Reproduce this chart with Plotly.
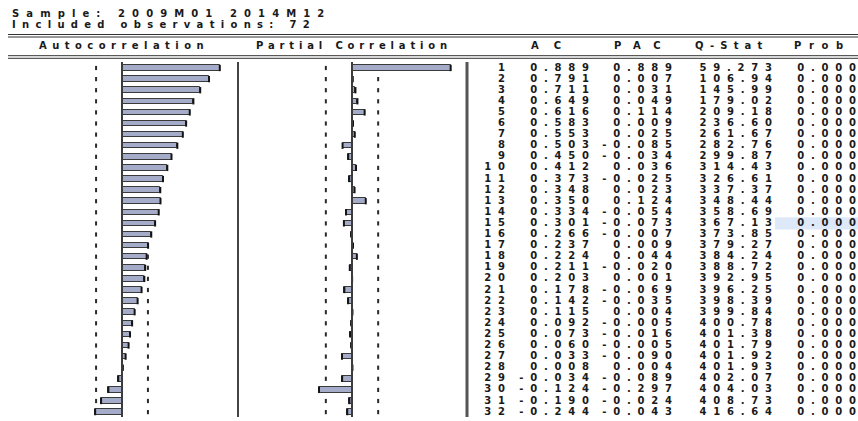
import plotly.graph_objects as go
import math

# ---------------- data ----------------
lags = list(range(1, 33))
ac = [0.889, 0.791, 0.711, 0.649, 0.616, 0.583, 0.553, 0.503, 0.450, 0.412,
      0.373, 0.348, 0.350, 0.334, 0.301, 0.266, 0.237, 0.224, 0.211, 0.203,
      0.178, 0.142, 0.115, 0.092, 0.073, 0.060, 0.033, 0.008, -0.034, -0.124,
      -0.190, -0.244]
pac = [0.889, 0.007, 0.031, 0.049, 0.114, 0.009, 0.025, -0.085, -0.034, 0.036,
       -0.025, 0.023, 0.124, -0.054, -0.073, -0.007, 0.009, 0.044, -0.020, 0.001,
       -0.069, -0.035, 0.004, -0.005, -0.016, -0.005, -0.090, 0.004, -0.089, -0.297,
       -0.024, -0.043]
qstat = ["59.273", "106.94", "145.99", "179.02", "209.18", "236.60", "261.67", "282.76",
         "299.87", "314.43", "326.61", "337.37", "348.44", "358.69", "367.13", "373.85",
         "379.27", "384.24", "388.72", "392.95", "396.25", "398.39", "399.84", "400.78",
         "401.38", "401.79", "401.92", "401.93", "402.07", "404.03", "408.73", "416.64"]
prob = ["0.000"] * 32
n_obs = 72
sample_text = "Sample: 2009M01 2014M12"
obs_text = "Included observations: 72"
col_headers = ["AC", "PAC", "Q-Stat", "Prob"]

bound = 2 / math.sqrt(n_obs)

# ---------------- layout constants ----------------
W, H = 858, 421
FONT = "DejaVu Sans"
TXT = "#1a1a1a"
FILL = "#a4acca"
EDGE = "#3a3a3a"
LS = 6.8  # letter spacing for numbers


def sp(t, s=LS):
    # letter-spacing on all but the last glyph so the ink ends at the anchor
    return f'<span style="letter-spacing:{s}px">{t[:-1]}</span>{t[-1]}' if len(t) > 1 else t


def px(p):  # pixel x -> paper
    return p / W


def py(p):  # pixel y -> paper
    return 1 - p / H


ac_zero, ac_scale = 122, 110
pac_zero, pac_scale = 352, 111
row1_px, row_step = 68, 11.1

fig = go.Figure()

# AC bars
fig.add_trace(go.Bar(orientation="h", x=ac, y=lags, width=0.5, xaxis="x", yaxis="y",
                     marker=dict(color=FILL, line=dict(color=EDGE, width=1)),
                     hoverinfo="skip"))
fig.add_trace(go.Scatter(x=ac, y=lags, mode="markers", xaxis="x", yaxis="y",
                         marker=dict(symbol="line-ns", size=4.5,
                                     line=dict(color="#141414", width=2)),
                         hoverinfo="skip"))
# AC bound ticks
ac_r = [l for l, v in zip(lags, ac) if v < bound]
ac_l = [l for l, v in zip(lags, ac) if v > -bound]
fig.add_trace(go.Scatter(x=[bound] * len(ac_r) + [-bound] * len(ac_l), y=ac_r + ac_l,
                         mode="markers", xaxis="x", yaxis="y",
                         marker=dict(symbol="line-ns", size=3,
                                     line=dict(color="#2a2a2a", width=2)),
                         hoverinfo="skip"))

# PAC bars
fig.add_trace(go.Bar(orientation="h", x=pac, y=lags, width=0.5, xaxis="x2", yaxis="y",
                     marker=dict(color=FILL, line=dict(color=EDGE, width=1)),
                     hoverinfo="skip"))
fig.add_trace(go.Scatter(x=pac, y=lags, mode="markers", xaxis="x2", yaxis="y",
                         marker=dict(symbol="line-ns", size=4.5,
                                     line=dict(color="#141414", width=2)),
                         hoverinfo="skip"))
pac_r = [l for l, v in zip(lags, pac) if v < bound]
pac_l = [l for l, v in zip(lags, pac) if v > -bound]
fig.add_trace(go.Scatter(x=[bound] * len(pac_r) + [-bound] * len(pac_l), y=pac_r + pac_l,
                         mode="markers", xaxis="x2", yaxis="y",
                         marker=dict(symbol="line-ns", size=3,
                                     line=dict(color="#2a2a2a", width=2)),
                         hoverinfo="skip"))

# table text columns
tfont = dict(family=FONT, size=10, color=TXT, weight="bold")
cols = [
    ([str(l) for l in lags], 505),
    ([f"{v:.3f}" for v in ac], 589),
    ([f"{v:.3f}" for v in pac], 672),
    (qstat, 772),
    (prob, 856),
]
for texts, xr in cols:
    fig.add_trace(go.Scatter(x=[xr] * len(texts), y=lags, mode="text",
                             text=[sp(t) for t in texts], textposition="middle left",
                             textfont=tfont, xaxis="x3", yaxis="y", hoverinfo="skip",
                             cliponaxis=False))

shapes = []
# highlight cell
shapes.append(dict(type="rect", xref="x3", yref="y", x0=775, x1=858, y0=15 - 0.55, y1=15 + 0.55,
                   fillcolor="#dde8f8", line=dict(width=0), layer="below"))
# horizontal double rules
for yy in (34.5, 37, 55.7, 58.3):
    shapes.append(dict(type="line", xref="paper", yref="paper", x0=px(8), x1=1,
                       y0=py(yy), y1=py(yy), line=dict(color="#333", width=1)))
# vertical lines
vtop, vbot = py(62), py(417)
shapes.append(dict(type="line", xref="x", yref="paper", x0=0, x1=0, y0=vbot, y1=vtop,
                   line=dict(color="#3c3c3c", width=2)))
shapes.append(dict(type="line", xref="x2", yref="paper", x0=0, x1=0, y0=vbot, y1=vtop,
                   line=dict(color="#3c3c3c", width=2)))
shapes.append(dict(type="line", xref="x3", yref="paper", x0=238, x1=238, y0=vbot, y1=vtop,
                   line=dict(color="#444", width=2)))
shapes.append(dict(type="line", xref="x3", yref="paper", x0=467, x1=467, y0=vbot, y1=vtop,
                   line=dict(color="#555", width=3)))

ann = []
hfont = dict(family=FONT, size=10, color=TXT, weight="bold")
ann.append(dict(text=sp(sample_text, 7.1), x=px(10), y=py(13.5), xref="paper", yref="paper",
                xanchor="left", yanchor="middle", showarrow=False, font=hfont))
ann.append(dict(text=sp(obs_text, 6.3), x=px(10), y=py(24.5), xref="paper", yref="paper",
                xanchor="left", yanchor="middle", showarrow=False, font=hfont))
ann.append(dict(text=sp("Autocorrelation", 5.45), x=px(121.5), y=py(45.5), xref="paper",
                yref="paper", xanchor="center", yanchor="middle", showarrow=False, font=hfont))
ann.append(dict(text=sp("Partial Correlation", 4.85), x=px(351.5), y=py(45.5), xref="paper",
                yref="paper", xanchor="center", yanchor="middle", showarrow=False, font=hfont))
for h, cx, s in zip(col_headers, [546, 637, 729, 818], [15.0, 12.5, 6.2, 7.6]):
    ann.append(dict(text=sp(h, s), x=px(cx), y=py(45.5), xref="paper", yref="paper",
                    xanchor="center", yanchor="middle", showarrow=False, font=hfont))

fig.update_layout(
    width=W, height=H, autosize=False,
    margin=dict(l=0, r=0, t=0, b=0, pad=0),
    paper_bgcolor="white", plot_bgcolor="white",
    showlegend=False, barmode="overlay", bargap=0,
    xaxis=dict(range=[-ac_zero / ac_scale, (W - ac_zero) / ac_scale], domain=[0, 1],
               visible=False, fixedrange=True),
    xaxis2=dict(range=[-pac_zero / pac_scale, (W - pac_zero) / pac_scale], overlaying="x",
                visible=False, fixedrange=True),
    xaxis3=dict(range=[0, W], overlaying="x", visible=False, fixedrange=True),
    yaxis=dict(range=[1 + (H - row1_px) / row_step, 1 - row1_px / row_step], domain=[0, 1],
               visible=False, fixedrange=True),
    shapes=shapes, annotations=ann,
)

fig.write_html("out.html", config={"displayModeBar": False},
               post_script="document.body.style.margin='0';document.body.style.overflow='hidden';")
